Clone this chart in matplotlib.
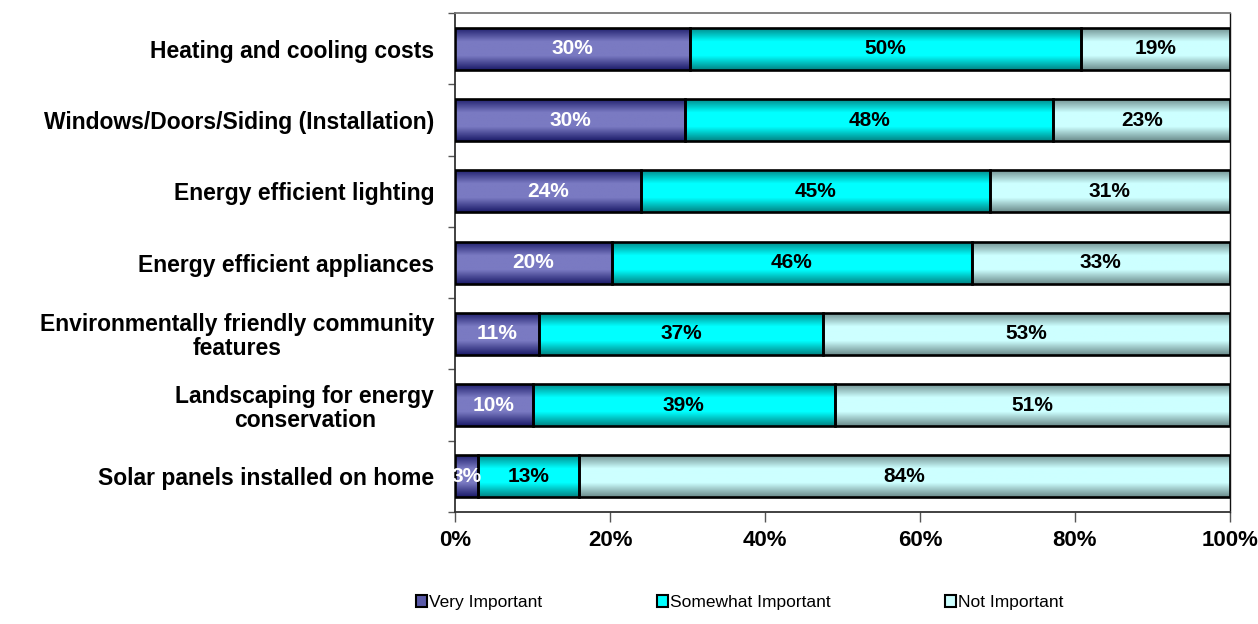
import numpy as np
import matplotlib.pyplot as plt
from matplotlib.colors import LinearSegmentedColormap
from matplotlib.patches import Patch

plt.rcParams['font.family'] = ['Liberation Sans', 'DejaVu Sans']

categories = [
    'Heating and cooling costs',
    'Windows/Doors/Siding (Installation)',
    'Energy efficient lighting',
    'Energy efficient appliances',
    'Environmentally friendly community\nfeatures',
    'Landscaping for energy\nconservation',
    'Solar panels installed on home',
]
very_important = [30, 30, 24, 20, 11, 10, 3]
somewhat_important = [50, 48, 45, 46, 37, 39, 13]
not_important = [19, 23, 31, 33, 53, 51, 84]
series_names = ['Very Important', 'Somewhat Important', 'Not Important']
x_ticks = [0, 20, 40, 60, 80, 100]

# gradient (edge, middle) colours per series, Excel-2003 style
shades = [
    ('#1c1c6a', '#7a7ac2'),
    ('#008585', '#00ffff'),
    ('#6c8c8c', '#cdffff'),
]
text_colors = ['white', 'black', 'black']

raw = np.array([very_important, somewhat_important, not_important], dtype=float)
shares = raw / raw.sum(axis=0) * 100

fig = plt.figure(figsize=(12.58, 6.24), dpi=100)
ax = fig.add_axes([0.3617, 0.1795, 0.6160, 0.7995])

ypos = np.arange(len(categories))
left = np.zeros(len(categories))
grad = np.linspace(0, 1, 64).reshape(-1, 1)
for i, name in enumerate(series_names):
    dark, light = shades[i]
    cmap = LinearSegmentedColormap.from_list(name, [dark, light, light, dark])
    bars = ax.barh(ypos, shares[i], left=left, height=0.59, facecolor='none',
                   edgecolor='black', linewidth=1.9, zorder=3)
    for bar in bars:
        x0, y0 = bar.get_x(), bar.get_y()
        im = ax.imshow(grad, cmap=cmap, aspect='auto', origin='lower',
                       extent=(x0, x0 + bar.get_width(), y0, y0 + bar.get_height()),
                       zorder=2)
        im.set_clip_path(bar)
    for y, l, w, v in zip(ypos, left, shares[i], raw[i]):
        ax.text(l + w / 2, y, f'{int(v)}%', ha='center', va='center',
                fontsize=15, fontweight='bold', color=text_colors[i], zorder=4)
    left += shares[i]

ax.set_xlim(0, 100)
ax.set_ylim(len(categories) - 0.5, -0.5)
ax.set_xticks(x_ticks)
ax.set_xticklabels([f'{t}%' for t in x_ticks], fontsize=16, fontweight='bold')
ax.set_yticks(ypos)
ax.set_yticklabels(categories, fontsize=16.5, fontweight='bold',
                   multialignment='center', linespacing=1.06)
ax.set_yticks(np.arange(len(categories) + 1) - 0.5, minor=True)
ax.tick_params(axis='y', which='major', length=0, pad=15)
ax.tick_params(axis='y', which='minor', length=5, width=1, color='#555555')
ax.tick_params(axis='x', length=7, width=1, color='#555555', pad=6)

for s in ['left', 'bottom']:
    ax.spines[s].set_color('#333333')
    ax.spines[s].set_linewidth(1.3)
ax.spines['top'].set_color('#777777')
ax.spines['top'].set_linewidth(1.3)
ax.spines['right'].set_color('#111111')
ax.spines['right'].set_linewidth(1.0)

handles = [Patch(facecolor=shades[i][1] if i else '#5a5aa8', edgecolor='black', linewidth=1.5)
           for i in range(3)]
fig.legend(handles, series_names, loc='center', bbox_to_anchor=(0.588, 0.034), ncol=3,
           frameon=False, fontsize=12.5, handlelength=0.65, handleheight=0.65,
           handletextpad=0.1, columnspacing=6.6)

fig.savefig('out.png', dpi=100)
